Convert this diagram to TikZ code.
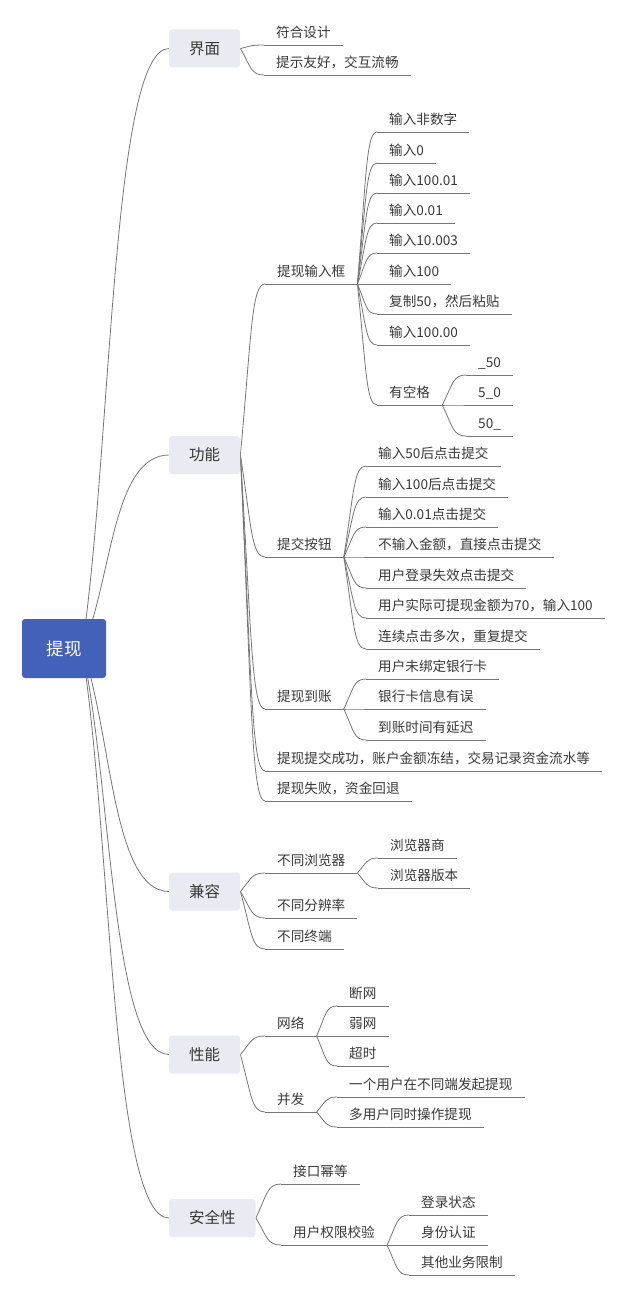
\documentclass[tikz,border=0pt]{standalone}
\usepackage{fontspec}
\setmainfont{Noto Sans CJK SC}
\usetikzlibrary{calc,backgrounds}

\definecolor{rootblue}{RGB}{67,97,185}
\definecolor{topicgray}{RGB}{233,234,242}
\definecolor{wire}{RGB}{118,118,118}
\definecolor{ink}{RGB}{56,56,56}

\begin{document}
\begin{tikzpicture}[
  x=1pt, y=-1pt,
  root/.style={fill=rootblue, text=white, rounded corners=3pt, minimum width=84pt, minimum height=59pt, font=\fontsize{17.5}{20}\selectfont},
  topic/.style={fill=topicgray, text=ink, rounded corners=3pt, anchor=west, minimum height=38pt, inner xsep=20pt, font=\fontsize{15.5}{18}\selectfont},
  leaf/.style={anchor=south west, text=ink, inner xsep=12pt, inner ysep=4pt, text height=10.5pt, text depth=3pt, font=\fontsize{13.6}{16}\selectfont},
  wirebase/.style={draw=wire, line width=0.8pt},
  trunk/.style={to path={let \p1=(\tikztostart), \p2=(\tikztotarget) in
    .. controls ({\x1+0.34*(\x2-\x1)}, {\y1+0.33*(\y2-\y1)}) and ({\x1+0.34*(\x2-\x1)}, \y2) .. (\tikztotarget)}},
  branch/.style={to path={let \p1=(\tikztostart), \p2=(\tikztotarget) in
    .. controls ({\x1+0.45*(\x2-\x1)}, {\y1+0.7*(\y2-\y1)}) and ({\x1+0.45*(\x2-\x1)}, \y2) .. (\tikztotarget)}}
]
\useasboundingbox (0,0) rectangle (621,1297);

\node[root] (root) at (64,648.5) {提现};
\coordinate (hub) at ([xshift=18pt]root.center);

\node[topic] (ui) at (169,48.5) {界面};
\node[topic] (func) at (169,455) {功能};
\node[topic] (compat) at (169,891.5) {兼容};
\node[topic] (perf) at (169,1054.5) {性能};
\node[topic] (safe) at (169,1218) {安全性};

% 界面
\node[leaf] (ui1) at (264,45) {符合设计};
\node[leaf] (ui2) at (264,75) {提示友好，交互流畅};

% 功能
\node[leaf] (inbox) at (265,284) {提现输入框};
\node[leaf] (in1) at (377,132) {输入非数字};
\node[leaf] (in2) at (377,163) {输入0};
\node[leaf] (in3) at (377,193) {输入100.01};
\node[leaf] (in4) at (377,223) {输入0.01};
\node[leaf] (in5) at (377,253) {输入10.003};
\node[leaf] (in6) at (377,284) {输入100};
\node[leaf] (in7) at (377,314) {复制50，然后粘贴};
\node[leaf] (in8) at (377,345) {输入100.00};
\node[leaf] (gap) at (377,405) {有空格};
\node[leaf] (gap1) at (466,375) {\_50};
\node[leaf] (gap2) at (466,405) {5\_0};
\node[leaf] (gap3) at (466,436) {50\_};

\node[leaf] (submit) at (265,557) {提交按钮};
\node[leaf] (sb1) at (366,466) {输入50后点击提交};
\node[leaf] (sb2) at (366,497) {输入100后点击提交};
\node[leaf] (sb3) at (366,527) {输入0.01点击提交};
\node[leaf] (sb4) at (366,557) {不输入金额，直接点击提交};
\node[leaf] (sb5) at (366,588) {用户登录失效点击提交};
\node[leaf] (sb6) at (366,618) {用户实际可提现金额为70，输入100};
\node[leaf] (sb7) at (366,649) {连续点击多次，重复提交};

\node[leaf] (arrive) at (265,709) {提现到账};
\node[leaf] (ar1) at (366,679) {用户未绑定银行卡};
\node[leaf] (ar2) at (366,709) {银行卡信息有误};
\node[leaf] (ar3) at (366,740) {到账时间有延迟};

\node[leaf] (done) at (265,771) {提现提交成功，账户金额冻结，交易记录资金流水等};
\node[leaf] (fail) at (265,801) {提现失败，资金回退};

% 兼容
\node[leaf] (brw) at (265,873) {不同浏览器};
\node[leaf] (brw1) at (378,858) {浏览器商};
\node[leaf] (brw2) at (378,888) {浏览器版本};
\node[leaf] (res) at (265,918) {不同分辨率};
\node[leaf] (term) at (265,949) {不同终端};

% 性能
\node[leaf] (net) at (265,1036) {网络};
\node[leaf] (net1) at (337,1006) {断网};
\node[leaf] (net2) at (337,1036) {弱网};
\node[leaf] (net3) at (337,1066) {超时};
\node[leaf] (conc) at (265,1112) {并发};
\node[leaf] (conc1) at (337,1097) {一个用户在不同端发起提现};
\node[leaf] (conc2) at (337,1127) {多用户同时操作提现};

% 安全性
\node[leaf] (idem) at (281,1184) {接口幂等};
\node[leaf] (auth) at (281,1245) {用户权限校验};
\node[leaf] (auth1) at (409,1215) {登录状态};
\node[leaf] (auth2) at (409,1245) {身份认证};
\node[leaf] (auth3) at (409,1275) {其他业务限制};

\begin{scope}[on background layer]
  \foreach \t in {ui,func,compat,perf,safe}
    \draw[wirebase] (hub) to[trunk] (\t.west);
  \foreach \c in {ui1,ui2}
    \draw[wirebase] (ui.east) to[branch] (\c.south west);
  \foreach \c in {inbox,submit,arrive,done,fail}
    \draw[wirebase] (func.east) to[branch] (\c.south west);
  \foreach \c in {in1,in2,in3,in4,in5,in6,in7,in8,gap}
    \draw[wirebase] (inbox.south east) to[branch] (\c.south west);
  \foreach \c in {gap1,gap2,gap3}
    \draw[wirebase] (gap.south east) to[branch] (\c.south west);
  \foreach \c in {sb1,sb2,sb3,sb4,sb5,sb6,sb7}
    \draw[wirebase] (submit.south east) to[branch] (\c.south west);
  \foreach \c in {ar1,ar2,ar3}
    \draw[wirebase] (arrive.south east) to[branch] (\c.south west);
  \foreach \c in {brw,res,term}
    \draw[wirebase] (compat.east) to[branch] (\c.south west);
  \foreach \c in {brw1,brw2}
    \draw[wirebase] (brw.south east) to[branch] (\c.south west);
  \foreach \c in {net,conc}
    \draw[wirebase] (perf.east) to[branch] (\c.south west);
  \foreach \c in {net1,net2,net3}
    \draw[wirebase] (net.south east) to[branch] (\c.south west);
  \foreach \c in {conc1,conc2}
    \draw[wirebase] (conc.south east) to[branch] (\c.south west);
  \foreach \c in {idem,auth}
    \draw[wirebase] (safe.east) to[branch] (\c.south west);
  \foreach \c in {auth1,auth2,auth3}
    \draw[wirebase] (auth.south east) to[branch] (\c.south west);
\end{scope}

% underlines
\foreach \n in {ui1,ui2,inbox,in1,in2,in3,in4,in5,in6,in7,in8,gap,gap1,gap2,gap3,
    submit,sb1,sb2,sb3,sb4,sb5,sb6,sb7,arrive,ar1,ar2,ar3,done,fail,
    brw,brw1,brw2,res,term,net,net1,net2,net3,conc,conc1,conc2,idem,auth,auth1,auth2,auth3}
  \draw[wirebase] (\n.south west) -- (\n.south east);

\end{tikzpicture}
\end{document}
